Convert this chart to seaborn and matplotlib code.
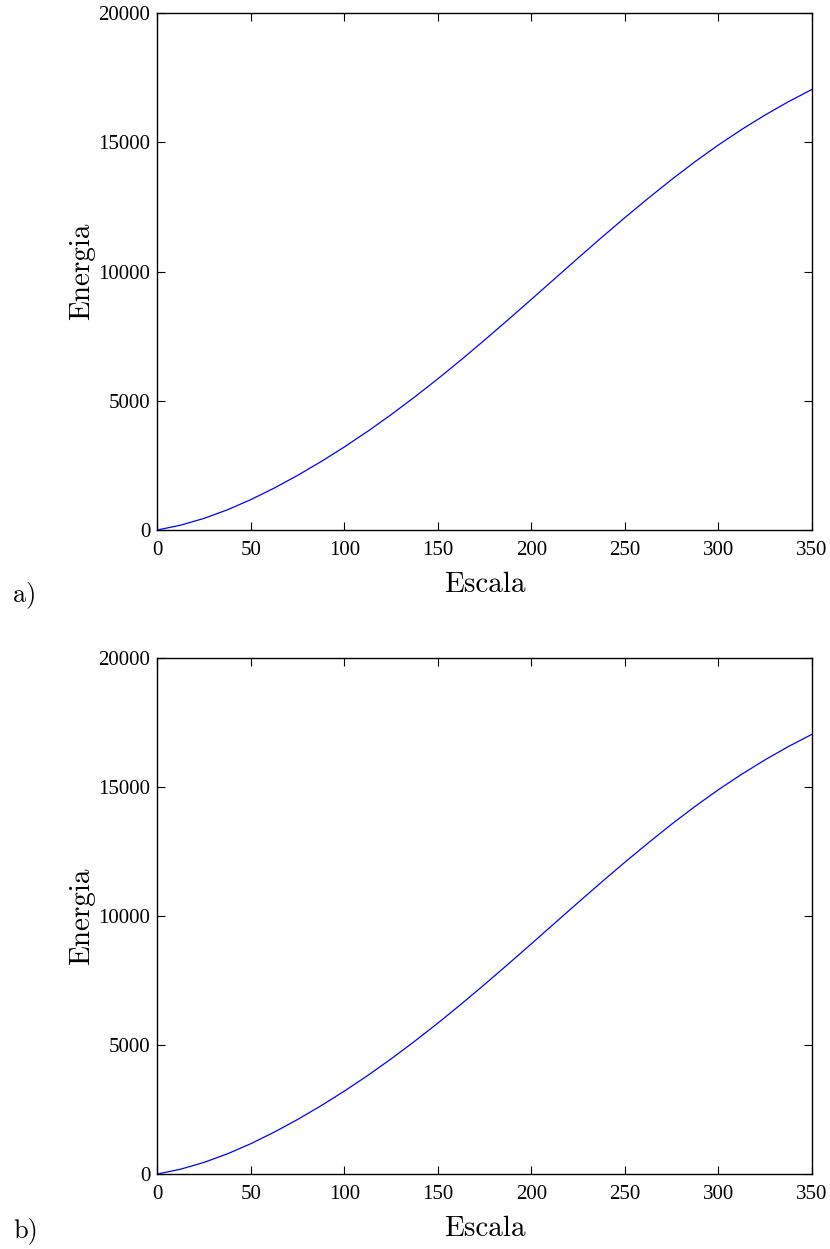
import matplotlib
matplotlib.use("Agg")
import matplotlib.pyplot as plt
import seaborn as sns
import pandas as pd

# Data (same curve in both panels)
escala = [0, 12.5, 25, 37.5, 50, 62.5, 75, 87.5, 100, 112.5, 125, 137.5, 150,
          162.5, 175, 187.5, 200, 212.5, 225, 237.5, 250, 262.5, 275, 287.5,
          300, 312.5, 325, 337.5, 350]
energia = [0, 187, 450, 781, 1175, 1622, 2112, 2643, 3212, 3818, 4462, 5140, 5849,
           6586, 7349, 8130, 8924, 9724, 10524, 11314, 12086, 12836, 13561, 14251,
           14898, 15501, 16060, 16576, 17047]
x_ticks = [0, 50, 100, 150, 200, 250, 300, 350]
y_ticks = [0, 5000, 10000, 15000, 20000]
panel_labels = ["a)", "b)"]
x_label = "Escala"
y_label = "Energia"

df = pd.DataFrame({"Escala": escala, "Energia": energia})

sns.set_theme(style="ticks")
plt.rcParams["font.family"] = ["Liberation Serif", "DejaVu Serif"]
plt.rcParams["xtick.direction"] = "in"
plt.rcParams["ytick.direction"] = "in"

W, H = 830, 1249
fig = plt.figure(figsize=(W / 100, H / 100), dpi=100)
fig.patch.set_facecolor("white")

# axes boxes in pixel coords: (left, top, right, bottom)
boxes = [(157.3, 13.3, 811.7, 530.0), (157.3, 658.3, 811.7, 1174.0)]
label_y = [595, 1231]

for (l, t, r, b), lab, ly in zip(boxes, panel_labels, label_y):
    ax = fig.add_axes([l / W, 1 - b / H, (r - l) / W, (b - t) / H])
    sns.lineplot(data=df, x="Escala", y="Energia", ax=ax, color="#0000ff",
                 linewidth=0.9)
    ax.set_xlim(0, 350)
    ax.set_ylim(0, 20000)
    ax.set_xticks(x_ticks)
    ax.set_yticks(y_ticks)
    ax.set_xticklabels([str(v) for v in x_ticks])
    ax.set_yticklabels([str(v) for v in y_ticks])
    ax.tick_params(axis="both", which="both", direction="in", length=6,
                   width=0.8, color="black", labelsize=15, top=True, right=True,
                   labelcolor="black")
    ax.tick_params(axis="x", pad=8)
    ax.tick_params(axis="y", pad=5)
    for s in ax.spines.values():
        s.set_visible(True)
        s.set_linewidth(1.0)
        s.set_color("black")
    ax.set_facecolor("white")
    ax.grid(False)
    ax.set_xlabel(x_label, fontfamily="cmr10", fontsize=21, color="black")
    ax.set_ylabel(y_label, fontfamily="cmr10", fontsize=21, color="black")
    ax.xaxis.set_label_coords(0.5, -0.08)
    ax.yaxis.set_label_coords(-0.095, 0.5)
    fig.text(13 / W, 1 - ly / H, lab, fontfamily="cmr10", fontsize=19,
             ha="left", va="center", color="black")

fig.savefig("out.png", dpi=100, facecolor="white")
